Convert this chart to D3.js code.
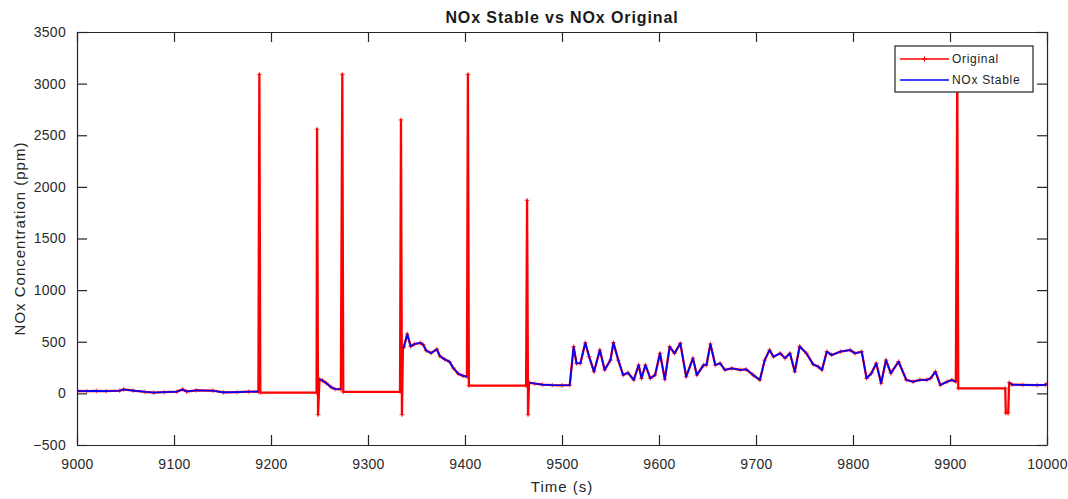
<!DOCTYPE html>
<html>
<head>
<meta charset="utf-8">
<script src="https://cdn.jsdelivr.net/npm/d3@7"></script>
<style>
  html, body { margin: 0; padding: 0; background: #ffffff; }
  svg { display: block; font-family: "Liberation Sans", Arial, sans-serif; }
</style>
</head>
<body>
<svg id="chart" width="1068" height="499"></svg>
<script>
// Stable NOx signal (ppm); null marks the stretches where the sensor was faulted
const stableTime = [
  9000, 9010, 9020, 9030, 9044, 9048, 9058, 9070, 9079, 9090, 9103, 9109, 9113, 9123, 9140, 9151, 9165, 9177, 9187,
  9220,
  9250, 9253, 9257, 9262, 9266, 9272,
  9300,
  9336, 9337, 9340.5, 9344, 9348, 9354, 9357, 9360, 9365, 9371, 9374, 9379, 9384, 9388, 9393, 9398, 9402,
  9430,
  9466, 9472, 9480, 9490, 9500, 9508, 9512, 9515, 9519, 9524, 9528, 9533, 9539, 9544, 9550, 9553, 9558, 9563,
  9568, 9574, 9579, 9582, 9586, 9591, 9596, 9601, 9606, 9611, 9616, 9622, 9628, 9635, 9639, 9646, 9649, 9653,
  9658, 9663, 9668, 9675, 9684, 9690, 9697, 9704, 9709, 9714, 9718, 9725, 9730, 9735, 9740, 9745, 9752, 9759,
  9764, 9768, 9773, 9778, 9787, 9797, 9802, 9809, 9814, 9819, 9824, 9829, 9834, 9839, 9847, 9855, 9862, 9869,
  9876, 9880, 9885, 9890, 9897, 9902, 9906,
  9930,
  9961, 9964, 9975, 9990, 9998, 10000
];
const stableNOx = [
  23, 22, 24, 22, 26, 38, 27, 15, 8, 12, 17, 38, 18, 30, 26, 10, 12, 16, 17,
  null,
  136, 125, 100, 60, 42, 40,
  null,
  440, 450, 575, 455, 478, 490, 470, 415, 390, 428, 362, 330, 307, 245, 190, 170, 162,
  null,
  105, 95, 85, 80, 78, 80, 452, 290, 292, 490, 355, 210, 420, 227, 323, 491, 323, 178,
  200, 130, 275, 146, 275, 146, 178, 388, 136, 452, 388, 485, 162, 340, 178, 275, 275, 478,
  275, 291, 227, 243, 227, 233, 178, 130, 323, 420, 355, 388, 340, 388, 210, 455, 388, 280,
  260, 227, 404, 372, 404, 420, 388, 404, 146, 195, 291, 98, 323, 195, 307, 130, 113, 130,
  130, 146, 210, 81, 113, 130, 113,
  null,
  104, 85, 82, 80, 82, 92
];

// Raw readings during the faulted stretches (spikes, dropouts, held values)
const faultTime = [
  9188, 9189, 9247, 9247.5, 9248.5,
  9273.5, 9274.5, 9333, 9334, 9335,
  9403, 9404, 9463, 9464, 9465,
  9907.5, 9908.5, 9957, 9957.5, 9960
];
const faultNOx = [
  3090, 8, 8, 2558, -205,
  3090, 14, 14, 2648, -205,
  3090, 75, 75, 1870, -205,
  3090, 49, 49, -190, -190
];

const xTicks = [9000, 9100, 9200, 9300, 9400, 9500, 9600, 9700, 9800, 9900, 10000];
const yTicks = [-500, 0, 500, 1000, 1500, 2000, 2500, 3000, 3500];
const seriesNames = ["Original", "NOx Stable"];

// Original signal = stable readings plus the raw fault readings, in time order
const stablePts = stableTime.map((t, i) => ({ t, v: stableNOx[i] }));
const originalPts = stablePts.filter(d => d.v !== null)
  .concat(faultTime.map((t, i) => ({ t, v: faultNOx[i] })))
  .sort((a, b) => a.t - b.t);

const svg = d3.select("#chart");
const m = { left: 77, right: 1047, top: 32, bottom: 445 };

const x = d3.scaleLinear().domain([9000, 10000]).range([m.left, m.right]);
const y = d3.scaleLinear().domain([-500, 3500]).range([m.bottom, m.top]);

const axisColor = "#262626";
const tickLen = 10;

// Data lines
const plot = svg.append("g");
plot.append("clipPath").attr("id", "clip")
  .append("rect").attr("x", m.left).attr("y", m.top)
  .attr("width", m.right - m.left).attr("height", m.bottom - m.top);

const line = d3.line().defined(d => d.v !== null).x(d => x(d.t)).y(d => y(d.v));

const g = plot.append("g").attr("clip-path", "url(#clip)");
g.append("path").datum(originalPts)
  .attr("d", line).attr("fill", "none")
  .attr("stroke", "#ff0000").attr("stroke-width", 2.3)
  .attr("stroke-linejoin", "round");

const plus = (sel, s) => sel.attr("d", `M${-s},0H${s}M0,${-s}V${s}`);
g.append("g").selectAll("path").data(originalPts).join("path")
  .attr("transform", d => `translate(${x(d.t)},${y(d.v)})`)
  .call(plus, 2.4)
  .attr("stroke", "#ff0000").attr("stroke-width", 1.2).attr("stroke-opacity", 0.6);

g.append("path").datum(stablePts)
  .attr("d", line).attr("fill", "none")
  .attr("stroke", "#0000ff").attr("stroke-width", 1.6)
  .attr("stroke-linejoin", "round");

// Axes (box with inward ticks on all four sides)
const fmt = d3.format("d");
const bottomAxis = d3.axisBottom(x).tickValues(xTicks).tickFormat(fmt).tickSizeInner(-tickLen).tickSizeOuter(0).tickPadding(14);
const topAxis = d3.axisTop(x).tickValues(xTicks).tickSizeInner(-tickLen).tickSizeOuter(0).tickFormat("");
const leftAxis = d3.axisLeft(y).tickValues(yTicks).tickFormat(fmt).tickSizeInner(-tickLen).tickSizeOuter(0).tickPadding(11);
const rightAxis = d3.axisRight(y).tickValues(yTicks).tickSizeInner(-tickLen).tickSizeOuter(0).tickFormat("");

function styleAxis(sel) {
  sel.select(".domain").attr("stroke", axisColor).attr("stroke-width", 1.2);
  sel.selectAll(".tick line").attr("stroke", axisColor).attr("stroke-width", 1.2);
  sel.selectAll(".tick text").attr("fill", "#2a2a2a").style("font-size", "14px")
    .style("letter-spacing", "0.3px")
    .style("font-family", "'Liberation Sans', Arial, sans-serif");
}

svg.append("g").attr("transform", `translate(0,${m.bottom})`).call(bottomAxis).call(styleAxis);
svg.append("g").attr("transform", `translate(0,${m.top})`).call(topAxis).call(styleAxis);
svg.append("g").attr("transform", `translate(${m.left},0)`).call(leftAxis).call(styleAxis);
svg.append("g").attr("transform", `translate(${m.right},0)`).call(rightAxis).call(styleAxis);

// Titles
svg.append("text")
  .attr("x", (m.left + m.right) / 2).attr("y", 23)
  .attr("text-anchor", "middle")
  .style("font-size", "16px").style("font-weight", "bold").style("letter-spacing", "0.9px")
  .attr("fill", "#1a1a1a")
  .text("NOx Stable vs NOx Original");

svg.append("text")
  .attr("x", (m.left + m.right) / 2).attr("y", 492)
  .attr("text-anchor", "middle")
  .style("font-size", "15px").style("letter-spacing", "1px").attr("fill", "#262626")
  .text("Time (s)");

svg.append("text")
  .attr("transform", `translate(25,${(m.top + m.bottom) / 2}) rotate(-90)`)
  .attr("text-anchor", "middle")
  .style("font-size", "15px").style("letter-spacing", "1px").attr("fill", "#262626")
  .text("NOx Concentration (ppm)");

// Legend
const legend = svg.append("g");
legend.append("rect")
  .attr("x", 895).attr("y", 46).attr("width", 138).attr("height", 46)
  .attr("fill", "#ffffff").attr("stroke", "#262626").attr("stroke-width", 1.2);

const legendColors = ["#ff0000", "#0000ff"];
seriesNames.forEach((name, i) => {
  const ly = 59 + i * 21;
  legend.append("line")
    .attr("x1", 900).attr("x2", 949).attr("y1", ly).attr("y2", ly)
    .attr("stroke", legendColors[i]).attr("stroke-width", 1.5);
  if (i === 0) {
    legend.append("path").attr("transform", `translate(924.5,${ly})`)
      .call(plus, 2.5).attr("stroke", "#ff0000").attr("stroke-width", 1);
  }
  legend.append("text")
    .attr("x", 952).attr("y", ly + 4)
    .style("font-size", "12px").style("letter-spacing", "0.7px").attr("fill", "#222")
    .text(name);
});
</script>
</body>
</html>
